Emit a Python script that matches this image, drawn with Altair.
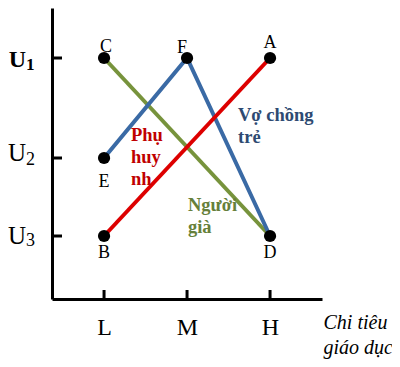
import altair as alt
import pandas as pd

# ---- data ----
x_categories = ["L", "M", "H"]
x_positions = [1, 2, 3]
utility_levels = ["U1", "U2", "U3"]
utility_values = [24.1, 14.1, 6.3]

point_names = ["A", "B", "C", "D", "E", "F"]
point_x = ["H", "L", "L", "H", "L", "M"]
point_u = ["U1", "U3", "U1", "U3", "U2", "U1"]

series_names = ["Người già", "Vợ chồng trẻ", "Phụ huynh"]
series_paths = [["C", "D"], ["E", "F", "D"], ["B", "A"]]
series_colors = ["#77933c", "#3a6aa5", "#dd0000"]
series_text_colors = ["#66803a", "#2e4a72", "#c00000"]
series_label_text = ["Người\ngià", "Vợ chồng\ntrẻ", "Phụ\nhuy\nnh"]
series_label_x = [2.011, 2.614, 1.325]
series_label_y = [10.3, 19.3, 17.3]

x_title = ["Chi tiêu", "giáo dục"]

# ---- tables ----
xmap = dict(zip(x_categories, x_positions))
umap = dict(zip(utility_levels, utility_values))
pts = pd.DataFrame({
    "name": point_names,
    "x": [xmap[c] for c in point_x],
    "y": [umap[u] for u in point_u],
})
ptlookup = {r.name: (r.x, r.y) for r in pts.itertuples()}

FONT = "Liberation Serif"
xs = alt.Scale(domain=[0.373, 3.626], nice=False, zero=False)
ys = alt.Scale(domain=[0, 29.1], nice=False, zero=False)

label_expr = "[" + ",".join(f"'{c}'" for c in x_categories) + f"][datum.value-{x_positions[0]}]"

x_axis = alt.Axis(
    values=x_positions, labelExpr=label_expr, ticks=False, tickSize=0,
    labelFont=FONT, labelFontSize=24, labelColor="black", labelPadding=16,
    labelFlush=False, grid=False, domainColor="black", domainWidth=3,
    title=x_title, titleFont=FONT, titleFontSize=20, titleFontStyle="italic",
    titleFontWeight="normal", titleColor="black", titleAlign="left",
    titleBaseline="top", titleAngle=0, titleX=271, titleY=13, titleLineHeight=25,
)
y_axis = alt.Axis(labels=False, ticks=False, tickSize=0, grid=False, title=None,
                  domainColor="black", domainWidth=3)

layers = []

# invisible base carrying the axes
base = alt.Chart(pts).mark_point(opacity=0).encode(
    x=alt.X("x:Q", scale=xs, axis=x_axis),
    y=alt.Y("y:Q", scale=ys, axis=y_axis),
)
layers.append(base)

# series lines (green, blue, red drawing order)
for name, path, col in zip(series_names, series_paths, series_colors):
    df = pd.DataFrame({
        "x": [ptlookup[p][0] for p in path],
        "y": [ptlookup[p][1] for p in path],
        "o": list(range(len(path))),
    })
    layers.append(
        alt.Chart(df).mark_line(color=col, strokeWidth=4, strokeCap="butt").encode(
            x=alt.X("x:Q", scale=xs), y=alt.Y("y:Q", scale=ys), order="o:Q"
        )
    )

# points
layers.append(
    alt.Chart(pts).mark_circle(size=150, color="black", opacity=1).encode(
        x=alt.X("x:Q", scale=xs), y=alt.Y("y:Q", scale=ys)
    )
)

# point letters
letter_offsets = {"A": (0, -15), "B": (0, 17), "C": (2, -11), "D": (0, 17), "E": (0, 24), "F": (-5, -10)}
for nm, (dx, dy) in letter_offsets.items():
    layers.append(
        alt.Chart(pts[pts.name == nm]).mark_text(
            font=FONT, fontSize=18, color="black", dx=dx, dy=dy, baseline="middle", align="center"
        ).encode(x=alt.X("x:Q", scale=xs), y=alt.Y("y:Q", scale=ys), text="name:N")
    )

# series labels
for txt, lx, ly, col in zip(series_label_text, series_label_x, series_label_y, series_text_colors):
    df = pd.DataFrame({"x": [lx], "y": [ly], "t": [txt]})
    layers.append(
        alt.Chart(df).mark_text(
            font=FONT, fontSize=18.5, fontWeight="bold", color=col, align="left",
            baseline="top", lineBreak="\n", lineHeight=22
        ).encode(x=alt.X("x:Q", scale=xs), y=alt.Y("y:Q", scale=ys), text="t:N")
    )

# tick marks (drawn inside the plot)
udf = pd.DataFrame({"lvl": utility_levels, "y": utility_values})
layers.append(
    alt.Chart(udf).mark_rule(color="black", strokeWidth=3).encode(
        y=alt.Y("y:Q", scale=ys), x=alt.value(0), x2=alt.value(10)
    )
)
xdf = pd.DataFrame({"x": x_positions})
layers.append(
    alt.Chart(xdf).mark_rule(color="black", strokeWidth=3).encode(
        x=alt.X("x:Q", scale=xs), y=alt.value(282), y2=alt.value(291)
    )
)

# y labels U with subscripts
u_style = {"U1": ("bold", 24, 2, 7), "U2": ("normal", 25, -5, 2), "U3": ("normal", 25, 0, 5)}
for lvl, val in zip(utility_levels, utility_values):
    weight, fs, dy, sdy = u_style[lvl]
    d = pd.DataFrame({"y": [val], "u": [lvl[0]], "s": [lvl[1:]]})
    layers.append(
        alt.Chart(d).mark_text(font=FONT, fontSize=fs, fontWeight=weight, color="black",
                               align="right", baseline="middle", dy=dy).encode(
            y=alt.Y("y:Q", scale=ys), x=alt.value(-26), text="u:N")
    )
    layers.append(
        alt.Chart(d).mark_text(font=FONT, fontSize=fs * 0.72, fontWeight=weight, color="black",
                               align="left", baseline="middle", dy=sdy).encode(
            y=alt.Y("y:Q", scale=ys), x=alt.value(-26), text="s:N")
    )

chart = alt.layer(*layers).properties(
    width=270, height=291,
    autosize=alt.AutoSizeParams(type="none"),
    padding={"left": 44, "top": 0, "right": 70, "bottom": 60},
).configure_view(stroke=None)

chart.save("out.html", embed_options={"renderer": "svg", "actions": False})
